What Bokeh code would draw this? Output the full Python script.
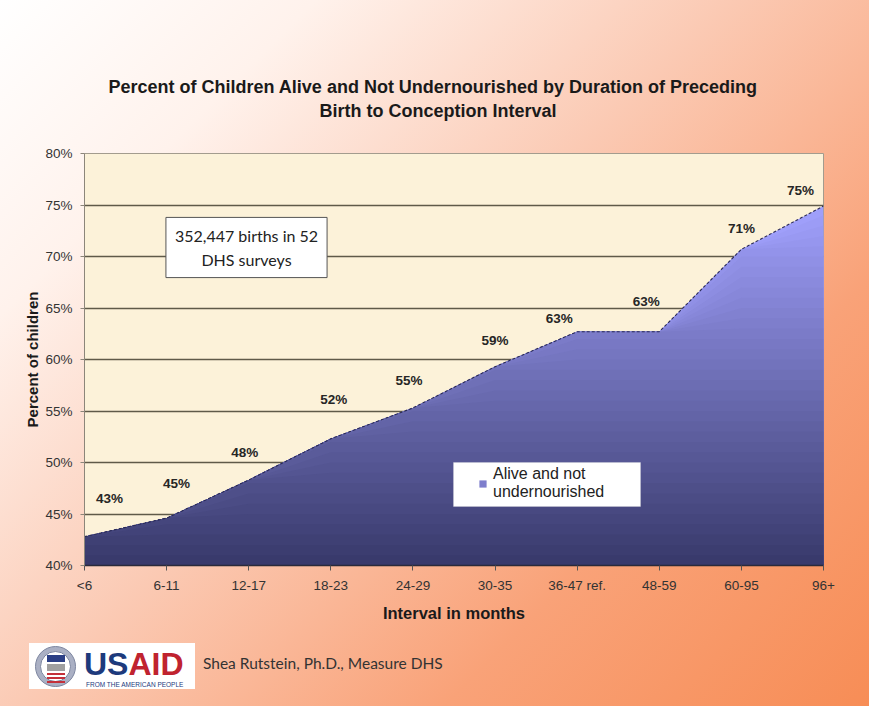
import numpy as np
from bokeh.plotting import figure
from bokeh.layouts import column
from bokeh.models import (Range1d, FixedTicker, PrintfTickFormatter, ColumnDataSource, LabelSet, Label,
                          Legend, LegendItem, BoxAnnotation, Title, Div)
from bokeh.core.properties import value
from bokeh.embed import file_html
from bokeh.resources import INLINE

# ---------------- data ----------------
CATEGORIES = ["<6", "6-11", "12-17", "18-23", "24-29", "30-35", "36-47 ref.", "48-59", "60-95", "96+"]
ALIVE_NOT_UNDERNOURISHED = [42.8, 44.6, 48.3, 52.3, 55.3, 59.3, 62.7, 62.7, 70.7, 74.9]
Y_TICKS = [40, 45, 50, 55, 60, 65, 70, 75, 80]
SERIES_NAME = "Alive and not\nundernourished"
TITLE_LINE1 = "Percent of Children Alive and Not Undernourished  by Duration of Preceding"
TITLE_LINE2 = "Birth to Conception Interval"
NOTE = "352,447 births in 52\nDHS surveys"
CREDIT = "Shea Rutstein, Ph.D., Measure DHS"
LOGO_WORDS = ["US", "AID"]
LOGO_TAGLINE = "FROM THE AMERICAN PEOPLE"

# label placement (style, pixels)
LABEL_DX = [25, 10, -4, 3, -4, 0, -18, -13, 0, -23]
LABEL_DY = [38, 35, 28, 39, 27, 26, 13, 30, 21, 16]

ARIAL = "Liberation Sans"
GILL = "Lato"
GRADIENT = "linear-gradient(135deg, #ffffff 0%, #fff2ec 20%, #fbcab4 46%, #f9a278 73%, #f78d56 100%)"

x = list(range(len(CATEGORIES)))
vals = np.array(ALIVE_NOT_UNDERNOURISHED)

W = 869
FL, FW, FT, FH = 84, 739, 153, 412
MAIN_BOTTOM = 70
MAIN_H = FT + FH + MAIN_BOTTOM
FOOT_H = 706 - MAIN_H

p = figure(frame_width=FW, frame_height=FH,
           min_border_left=FL, min_border_right=W - FL - FW, min_border_top=FT, min_border_bottom=MAIN_BOTTOM,
           x_range=Range1d(0, len(CATEGORIES) - 1), y_range=Range1d(Y_TICKS[0], Y_TICKS[-1]),
           output_backend="svg", toolbar_location=None, title=None)

p.border_fill_color = None
p.background_fill_color = "#fcf2d9"
p.outline_line_color = "#a39c8e"
p.outline_line_width = 1

# titles: spacer nearest the frame, then line 2, then line 1
p.add_layout(Title(text=" ", text_font_size="14px", standoff=14), "above")
p.add_layout(Title(text=TITLE_LINE2, align="left", offset=235, standoff=2,
                   text_font=ARIAL, text_font_size="18px", text_font_style="bold", text_color="#1a1a1a"),
             "above")
p.add_layout(Title(text=TITLE_LINE1, align="left", offset=24, standoff=1,
                   text_font=ARIAL, text_font_size="18px", text_font_style="bold", text_color="#1a1a1a"),
             "above")

# axes
p.xaxis.ticker = FixedTicker(ticks=x)
p.xaxis.major_label_overrides = {i: c for i, c in enumerate(CATEGORIES)}
p.yaxis.ticker = FixedTicker(ticks=Y_TICKS)
p.yaxis.formatter = PrintfTickFormatter(format="%d%%")
p.xgrid.grid_line_color = None
p.ygrid.grid_line_color = "#5f5a49"
p.ygrid.grid_line_width = 1.3

for ax in (p.xaxis[0], p.yaxis[0]):
    ax.major_label_text_font = ARIAL
    ax.major_label_text_font_size = "13.5px"
    ax.major_label_text_color = "#333333"
    ax.minor_tick_line_color = None
    ax.major_tick_in = 0
    ax.axis_label_text_font = ARIAL
    ax.axis_label_text_font_style = "bold"
    ax.axis_label_text_color = "#1a1a1a"

p.yaxis.major_tick_out = 4
p.yaxis.major_label_standoff = 8
p.yaxis.axis_line_color = "#8c867a"
p.yaxis.major_tick_line_color = "#8c867a"
p.yaxis.axis_label = "Percent of children"
p.yaxis.axis_label_text_font_size = "15px"
p.yaxis.axis_label_standoff = 1

p.xaxis.major_tick_out = 5
p.xaxis.major_label_standoff = 7
p.xaxis.axis_line_color = "#2a2a3a"
p.xaxis.axis_line_width = 1.5
p.xaxis.major_tick_line_color = "#555555"
p.xaxis.axis_label = "Interval in months"
p.xaxis.axis_label_text_font_size = "16.5px"
p.xaxis.axis_label_standoff = 8

# area with vertical gradient (stacked clipped layers)
c_lo = np.array([56, 57, 106])
c_hi = np.array([160, 160, 252])
def shade(level):
    t = (level - Y_TICKS[0]) / (vals.max() - Y_TICKS[0])
    c = c_lo + (c_hi - c_lo) * min(max(t, 0), 1)
    return "#%02x%02x%02x" % tuple(int(round(v)) for v in c)

levels = [vals.max()] + list(np.arange(np.floor(vals.max()), Y_TICKS[0], -1.0))
layers = []
for lv in levels:
    r = p.varea(x=x, y1=Y_TICKS[0], y2=np.minimum(vals, lv), fill_color=shade(lv - 0.5))
    layers.append(r)

p.line(x=x, y=ALIVE_NOT_UNDERNOURISHED, line_color="#2a2a55", line_width=1.1, line_dash="3 2")

# data labels
src = ColumnDataSource(dict(x=x, y=ALIVE_NOT_UNDERNOURISHED,
                            text=[f"{round(v)}%" for v in ALIVE_NOT_UNDERNOURISHED],
                            dx=LABEL_DX, dy=LABEL_DY))
p.add_layout(LabelSet(x="x", y="y", text="text", x_offset="dx", y_offset="dy", source=src,
                      text_align="center", text_baseline="middle", text_font=value(ARIAL),
                      text_font_size="13.5px", text_font_style="bold", text_color="#262626"))

# note box
p.add_layout(Label(x=162, y=318, x_units="screen", y_units="screen", text=NOTE,
                   text_align="center", text_baseline="middle", text_font=GILL, text_font_size="16px",
                   text_color="#222222", text_line_height=1.22,
                   background_fill_color="white", border_line_color="#555555", border_line_width=1,
                   padding=9))

# legend
p.add_layout(BoxAnnotation(left=369, right=556, bottom=59, top=103, left_units="screen",
                           right_units="screen", bottom_units="screen", top_units="screen",
                           fill_color="white", fill_alpha=1, line_color="#dddddd", line_width=1))
legend = Legend(items=[LegendItem(label=SERIES_NAME, renderers=[layers[len(layers) // 3]])],
                location=(394, 64), padding=4, margin=0, spacing=0,
                background_fill_alpha=0, border_line_color=None,
                glyph_width=9, glyph_height=9, label_standoff=6,
                label_text_font=ARIAL, label_text_font_size="16px", label_text_color="#222222",
                label_text_line_height=1.2)
p.add_layout(legend)

# ---------------- footer: logo block and credit ----------------
stripes = "".join(
    f'<div style="position:absolute;left:47px;top:{38 + 4 * k}px;width:18px;height:2px;background:#c4303a"></div>'
    for k in range(3))
footer_html = f"""
<div style="position:relative;width:{W}px;height:{FOOT_H}px;">
  <div style="position:absolute;left:29px;top:8px;width:166px;height:46px;background:#ffffff;"></div>
  <div style="position:absolute;left:35px;top:11px;width:41px;height:41px;border-radius:50%;
              background:#aab0c4;border:1px solid #7d86a0;box-sizing:border-box;"></div>
  <div style="position:absolute;left:40px;top:16px;width:31px;height:31px;border-radius:50%;
              background:#ffffff;border:1px solid #7d86a0;box-sizing:border-box;"></div>
  <div style="position:absolute;left:47px;top:20px;width:18px;height:7px;background:#2b3f86"></div>
  <div style="position:absolute;left:47px;top:29px;width:18px;height:7px;background:#a0a0a0"></div>
  {stripes}
  <div style="position:absolute;left:84px;top:13px;font-family:'{ARIAL}';font-size:32px;font-weight:bold;
              line-height:32px;white-space:nowrap;"><span style="color:#1d3a7c">{LOGO_WORDS[0]}</span><span
              style="color:#c0232f">{LOGO_WORDS[1]}</span></div>
  <div style="position:absolute;left:86px;top:46px;font-family:'{ARIAL}';font-size:6.5px;color:#1d3a7c;
              line-height:7px;white-space:nowrap;">{LOGO_TAGLINE}</div>
  <div style="position:absolute;left:203px;top:19px;font-family:'{GILL}';font-size:15.5px;color:#333333;
              line-height:18px;white-space:nowrap;">{CREDIT}</div>
</div>
"""
footer = Div(text=footer_html, width=W, height=FOOT_H, margin=0)

layout = column(p, footer, spacing=0)
layout.styles = {"background": GRADIENT}

open("out.html", "w").write(file_html(layout, INLINE))
